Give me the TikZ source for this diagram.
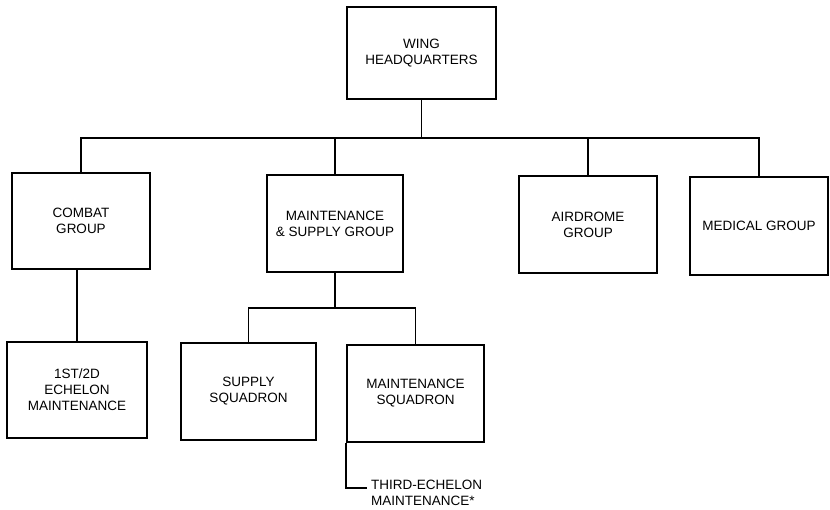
\documentclass[tikz,border=0pt]{standalone}
\usepackage{fontspec}
\setmainfont{Liberation Sans}
\begin{document}
\begin{tikzpicture}[x=1pt,y=-1pt,
  orgbox/.style={draw, line width=1.9pt, minimum width=#1, inner sep=0pt, align=center,
    font=\fontsize{13.5}{16}\selectfont},
  orgbox/.default=138pt,
  link/.style={line width=1.9pt},
  lbl/.style={inner sep=0pt, align=left, font=\fontsize{13.5}{16}\selectfont}]
\useasboundingbox (0,0) rectangle (830,509);
\node[orgbox=149pt, minimum height=92pt] (hq) at (421.5,53) {WING\\HEADQUARTERS};
\node[orgbox=138pt, minimum height=96pt] (combat) at (81,221) {COMBAT\\GROUP};
\node[orgbox=136pt, minimum height=97pt] (mgroup) at (335,223.5) {MAINTENANCE\\\& SUPPLY GROUP};
\node[orgbox=138pt, minimum height=97pt] (air) at (588,224.5) {AIRDROME\\GROUP};
\node[orgbox=138pt, minimum height=98pt] (med) at (759,226) {MEDICAL GROUP};
\node[orgbox=140pt, minimum height=96pt] (first) at (77,390) {1ST/2D\\ECHELON\\MAINTENANCE};
\node[orgbox=135pt, minimum height=97pt] (supply) at (248.5,391.5) {SUPPLY\\SQUADRON};
\node[orgbox=137pt, minimum height=97pt] (msq) at (415.5,393.5) {MAINTENANCE\\SQUADRON};
\node[lbl, anchor=north west] (third) at (371,480) {THIRD-ECHELON\\MAINTENANCE*};
\coordinate (busY) at (0,138);
\coordinate (subY) at (0,308);
\coordinate (tend) at (367,488);
\draw[link] (hq.south) -- (hq.south |- busY);
\draw[link] (combat.north) -- (combat.north |- busY) -| (med.north);
\draw[link] (mgroup.north) -- (mgroup.north |- busY);
\draw[link] (air.north) -- (air.north |- busY);
\draw[link] (first.north) -- (first.north |- combat.south);
\draw[link] (mgroup.south) -- (mgroup.south |- subY);
\draw[link] (supply.north) -- (supply.north |- subY) -| (msq.north);
\draw[link] (msq.south west) |- (tend);
\end{tikzpicture}
\end{document}
